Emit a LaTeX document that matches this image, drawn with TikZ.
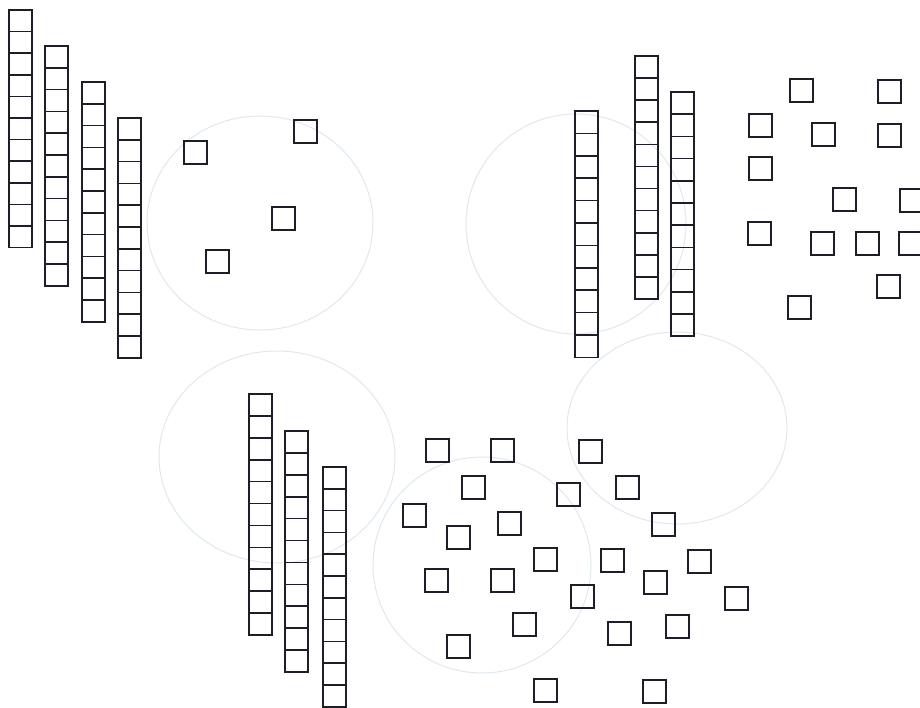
\documentclass[tikz,border=0pt]{standalone}
\usepackage{tikz}
\definecolor{blockInk}{RGB}{30,30,40}
\definecolor{ghostBlue}{RGB}{222,232,238}

\begin{document}
\begin{tikzpicture}[x=1pt, y=-1pt,
  rodcell/.style={draw=blockInk, line width=1.6pt},
  unitsq/.style={draw=blockInk, line width=1.6pt},
  ghost/.style={draw=ghostBlue, line width=1pt}]
\useasboundingbox (0,0) rectangle (920,708);
% faint circles showing through the page
\draw[ghost] (260,223) ellipse (113 and 107);
\draw[ghost] (576,224) circle (110);
\draw[ghost] (277,457) ellipse (118 and 106);
\draw[ghost] (482,565) ellipse (109 and 108);
\draw[ghost] (677,428) ellipse (110 and 96);
% rods
\foreach \x/\y/\h in {9/10/21.6, 45/46/21.8, 82/82/21.8, 118/118/21.8,
                      575/111/22.4, 635/56/22.1, 671/92/22.2,
                      249/394/21.9, 285/431/21.9, 323/467/21.8}{
  \foreach \k in {0,...,10}
    \draw[rodcell] (\x,\y+\k*\h) rectangle ++(23,\h);
}
% units, top left
\foreach \x/\y in {184/141, 294/120, 272/207, 206/250}
  \draw[unitsq] (\x,\y) rectangle ++(23,23);
% units, top right
\foreach \x/\y in {790/79, 878/80, 749/114, 812/123, 878/124, 749/157,
                   833/188, 900/189, 748/222, 811/232, 856/232, 899/232,
                   877/275, 788/296}
  \draw[unitsq] (\x,\y) rectangle ++(23,23);
% units, bottom
\foreach \x/\y in {426/439, 491/439, 579/440, 462/476, 557/483, 616/476,
                   403/504, 498/512, 447/526, 652/513, 534/548, 601/549,
                   688/550, 425/569, 491/569, 644/571, 571/585, 725/587,
                   513/613, 666/615, 608/622, 447/635, 534/679, 643/680}
  \draw[unitsq] (\x,\y) rectangle ++(23,23);
\end{tikzpicture}
\end{document}
